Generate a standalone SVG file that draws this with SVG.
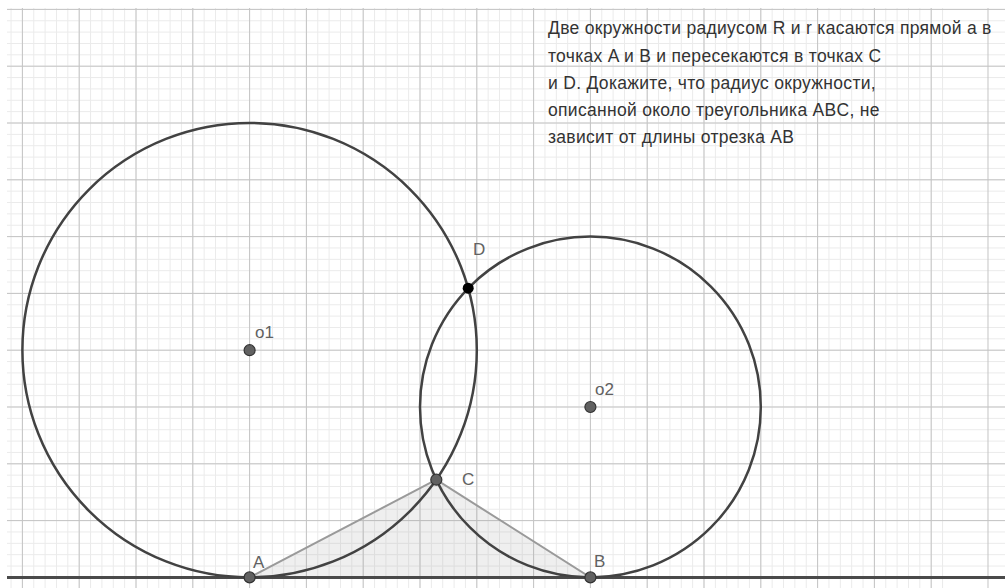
<svg xmlns="http://www.w3.org/2000/svg" width="1005" height="588" viewBox="0 0 1005 588">
<style>
.minor{fill:none;stroke:#ebebeb;stroke-width:1}
.major{fill:none;stroke:#c4c4c4;stroke-width:1}
.circ{fill:none;stroke:#424242;stroke-width:2.5}
.pt{fill:#616161;stroke:#333;stroke-width:1.2}
.lbl{font-family:"Liberation Sans",Arial,sans-serif;font-size:17px;fill:#616161}
.txt{font-family:"Liberation Sans",Arial,sans-serif;font-size:17.5px;letter-spacing:0.3px;fill:#333}
</style>
<rect x="0" y="0" width="1005" height="588" fill="#fff"/>
<g id="grid">
<path class="minor" d="M11.04 8v580m11.36-580v580m11.36-580v580m11.36-580v580m11.36-580v580m11.36-580v580m11.36-580v580m11.36-580v580m11.36-580v580m11.36-580v580m11.36-580v580m11.36-580v580m11.36-580v580m11.36-580v580m11.36-580v580m11.36-580v580m11.36-580v580m11.36-580v580m11.36-580v580m11.36-580v580m11.36-580v580m11.36-580v580m11.36-580v580m11.36-580v580m11.36-580v580m11.36-580v580m11.36-580v580m11.36-580v580m11.36-580v580m11.36-580v580m11.36-580v580m11.36-580v580m11.36-580v580m11.36-580v580m11.36-580v580m11.36-580v580m11.36-580v580m11.36-580v580m11.36-580v580m11.36-580v580m11.36-580v580m11.36-580v580m11.36-580v580m11.36-580v580m11.36-580v580m11.36-580v580m11.36-580v580m11.36-580v580m11.36-580v580m11.36-580v580m11.36-580v580m11.36-580v580m11.36-580v580m11.36-580v580m11.36-580v580m11.36-580v580m11.36-580v580m11.36-580v580m11.36-580v580m11.36-580v580m11.36-580v580m11.36-580v580m11.36-580v580m11.36-580v580m11.36-580v580m11.36-580v580m11.36-580v580m11.36-580v580m11.36-580v580m11.36-580v580m11.36-580v580m11.36-580v580m11.36-580v580m11.36-580v580m11.36-580v580m11.36-580v580m11.36-580v580m11.36-580v580m11.36-580v580m11.36-580v580m11.36-580v580m11.36-580v580m11.36-580v580"/>
<path class="minor" d="M7 9.4h998m-998 11.36h998m-998 11.36h998m-998 11.36h998m-998 11.36h998m-998 11.36h998m-998 11.36h998m-998 11.36h998m-998 11.36h998m-998 11.36h998m-998 11.36h998m-998 11.36h998m-998 11.36h998m-998 11.36h998m-998 11.36h998m-998 11.36h998m-998 11.36h998m-998 11.36h998m-998 11.36h998m-998 11.36h998m-998 11.36h998m-998 11.36h998m-998 11.36h998m-998 11.36h998m-998 11.36h998m-998 11.36h998m-998 11.36h998m-998 11.36h998m-998 11.36h998m-998 11.36h998m-998 11.36h998m-998 11.36h998m-998 11.36h998m-998 11.36h998m-998 11.36h998m-998 11.36h998m-998 11.36h998m-998 11.36h998m-998 11.36h998m-998 11.36h998m-998 11.36h998m-998 11.36h998m-998 11.36h998m-998 11.36h998m-998 11.36h998m-998 11.36h998m-998 11.36h998m-998 11.36h998m-998 11.36h998m-998 11.36h998m-998 11.36h998"/>
<path class="major" d="M22.4 8v580m56.8-580v580m56.8-580v580m56.8-580v580m56.8-580v580m56.8-580v580m56.8-580v580m56.8-580v580m56.8-580v580m56.8-580v580m56.8-580v580m56.8-580v580m56.8-580v580m56.8-580v580m56.8-580v580m56.8-580v580m56.8-580v580m56.8-580v580"/>
<path class="major" d="M7 9.4h998m-998 56.8h998m-998 56.8h998m-998 56.8h998m-998 56.8h998m-998 56.8h998m-998 56.8h998m-998 56.8h998m-998 56.8h998m-998 56.8h998"/>
</g>
<g id="triangle">
<polygon points="249.6,577.4 436.3,479.7 590.4,577.4" fill="#9e9e9e" fill-opacity="0.16" stroke="#9a9a9a" stroke-width="2"/>
</g>
<g id="connectors">
<line id="line-a" x1="7" y1="577.4" x2="1005" y2="577.4" stroke="#4a4a4a" stroke-width="3"/>
<circle id="circle1" class="circ" cx="249.6" cy="350.2" r="227.2"/>
<circle id="circle2" class="circ" cx="590.4" cy="407" r="170.4"/>
</g>
<g id="node-o1"><circle class="pt" cx="249.6" cy="350.2" r="5.5"/><text class="lbl" x="255" y="338">o1</text></g>
<g id="node-o2"><circle class="pt" cx="590.4" cy="407" r="5.5"/><text class="lbl" x="595" y="395">o2</text></g>
<g id="node-A"><circle class="pt" cx="249.6" cy="577.4" r="5.5"/><text class="lbl" x="253" y="568">A</text></g>
<g id="node-B"><circle class="pt" cx="590.4" cy="577.4" r="5.5"/><text class="lbl" x="594" y="567">B</text></g>
<g id="node-C"><circle class="pt" cx="436.3" cy="479.7" r="5.5"/><text class="lbl" x="462" y="485">C</text></g>
<g id="node-D"><circle cx="468.2" cy="288.2" r="5.5" fill="#000"/><text class="lbl" x="473" y="255">D</text></g>
<g id="statement">
<text class="txt" x="548" y="34.3">Две окружности радиусом R и r касаются прямой а в</text>
<text class="txt" x="548" y="61.5">точках A и B и пересекаются в точках C</text>
<text class="txt" x="548" y="88.7">и D. Докажите, что радиус окружности,</text>
<text class="txt" x="548" y="115.9">описанной около треугольника ABC, не</text>
<text class="txt" x="548" y="143.1">зависит от длины отрезка AB</text>
</g>
</svg>
